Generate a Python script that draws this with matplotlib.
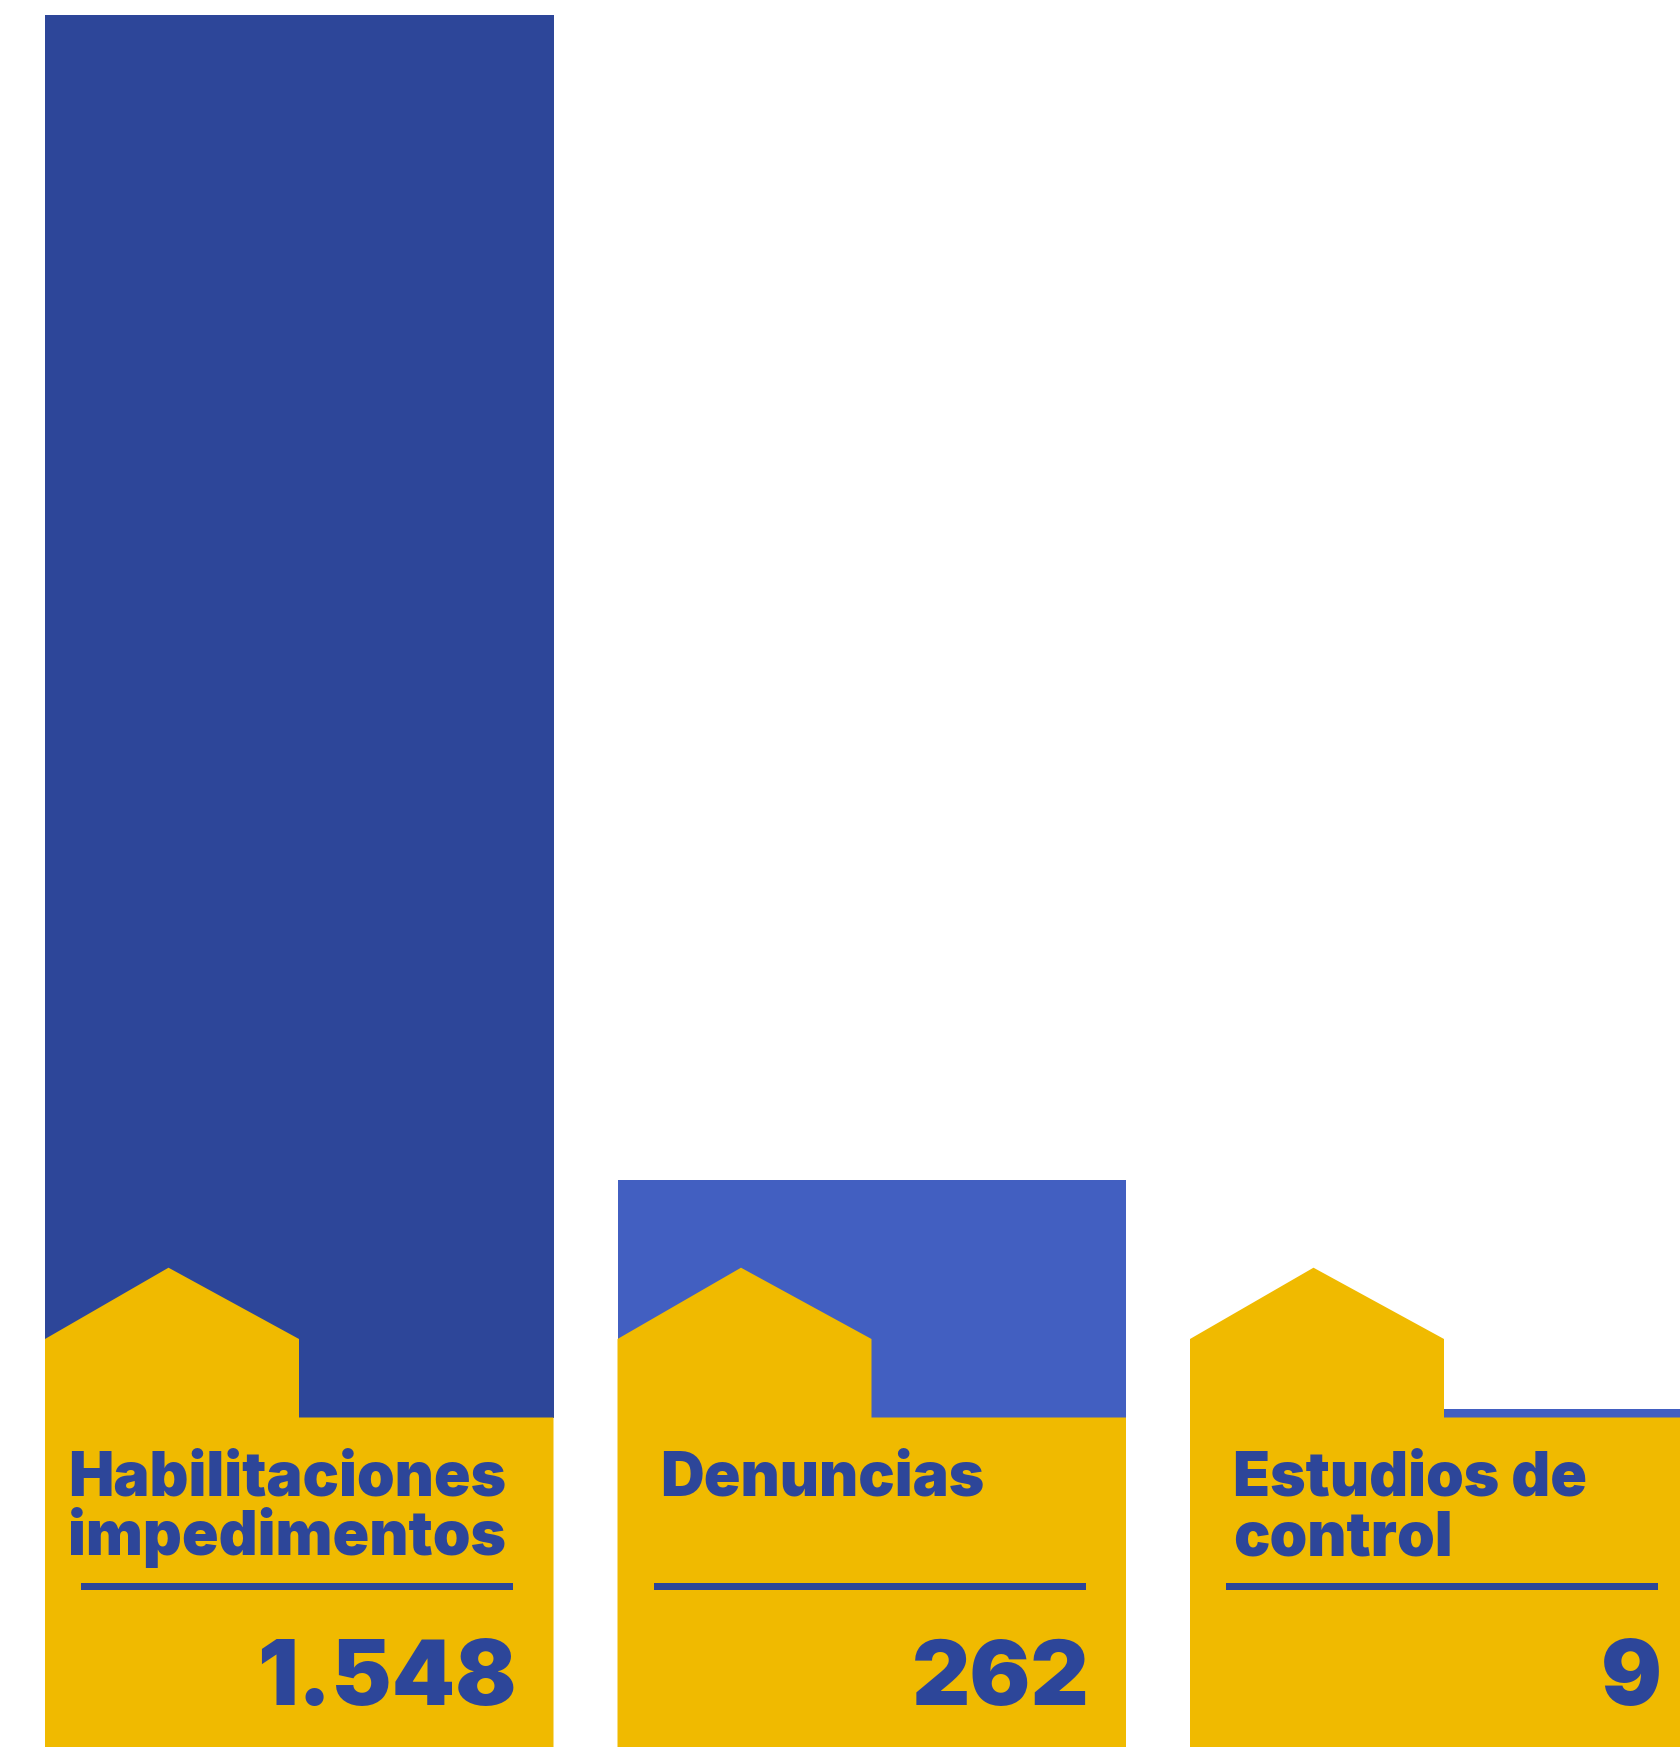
import matplotlib
matplotlib.use("Agg")
import matplotlib.pyplot as plt
from matplotlib.patches import Polygon, Rectangle

# ---------- data ----------
categories = ["Habilitaciones\nimpedimentos", "Denuncias", "Estudios de\ncontrol"]
values = [1548, 262, 9]
value_labels = ["1.548", "262", "9"]

# ---------- style ----------
BLUE_DARK = "#2D4699"
BLUE_LIGHT = "#425FC1"
YELLOW = "#F0BA00"
bar_colors = [BLUE_DARK, BLUE_LIGHT, BLUE_LIGHT]
FONT = "Inter"

# ---------- layout (pixels of the final image) ----------
W_PX, H_PX, DPI = 1681, 1747, 100
PITCH_PX = 572.5      # distance between left edges of bars
BAR_PX = 508.5        # bar width
LEFT_PX = 45          # left edge of first bar
BASE_PX = 329.5       # baseline, measured from bottom of image
TOP_PX = 1402.5       # height of the tallest bar
label_pad = [23, 43, 43]   # left padding of the label text

fig = plt.figure(figsize=(W_PX / DPI, H_PX / DPI), dpi=DPI)
ax = fig.add_axes([0, 0, 1, 1])
ax.set_axis_off()

# px -> data units
ux = 1 / PITCH_PX
uy = max(values) / TOP_PX
x0 = -(LEFT_PX + BAR_PX / 2) * ux
ax.set_xlim(x0, x0 + W_PX * ux)
ax.set_ylim(-BASE_PX * uy, (H_PX - BASE_PX) * uy)

xs = list(range(len(values)))
bars = ax.bar(xs, values, width=BAR_PX * ux, color=bar_colors, linewidth=0, zorder=1)

# house-shaped yellow label under each bar
house_px = [(0, -400), (0, 78.5), (123.5, 149.8), (254, 78.5), (254, 0),
            (BAR_PX, 0), (BAR_PX, -400)]

for i, b in enumerate(bars):
    bx = b.get_x()
    pts = [(bx + px * ux, py * uy) for px, py in house_px]
    ax.add_patch(Polygon(pts, closed=True, facecolor=YELLOW, edgecolor="none", zorder=2))

    for j, line in enumerate(categories[i].split("\n")):
        ax.text(bx + label_pad[i] * ux, (-78.5 - 59 * j) * uy, line,
                ha="left", va="baseline", fontsize=43.5, fontweight="black",
                family=FONT, color=BLUE_DARK, zorder=3)

    # separator line
    ax.add_patch(Rectangle((bx + 36 * ux, -172.5 * uy), 432 * ux, 7.5 * uy,
                           facecolor=BLUE_DARK, edgecolor="none", zorder=3))

    ax.text(bx + 472 * ux, -288 * uy, value_labels[i],
            ha="right", va="baseline", fontsize=65, fontweight="black",
            family=FONT, color=BLUE_DARK, zorder=3)

fig.savefig("out.png", dpi=DPI)
